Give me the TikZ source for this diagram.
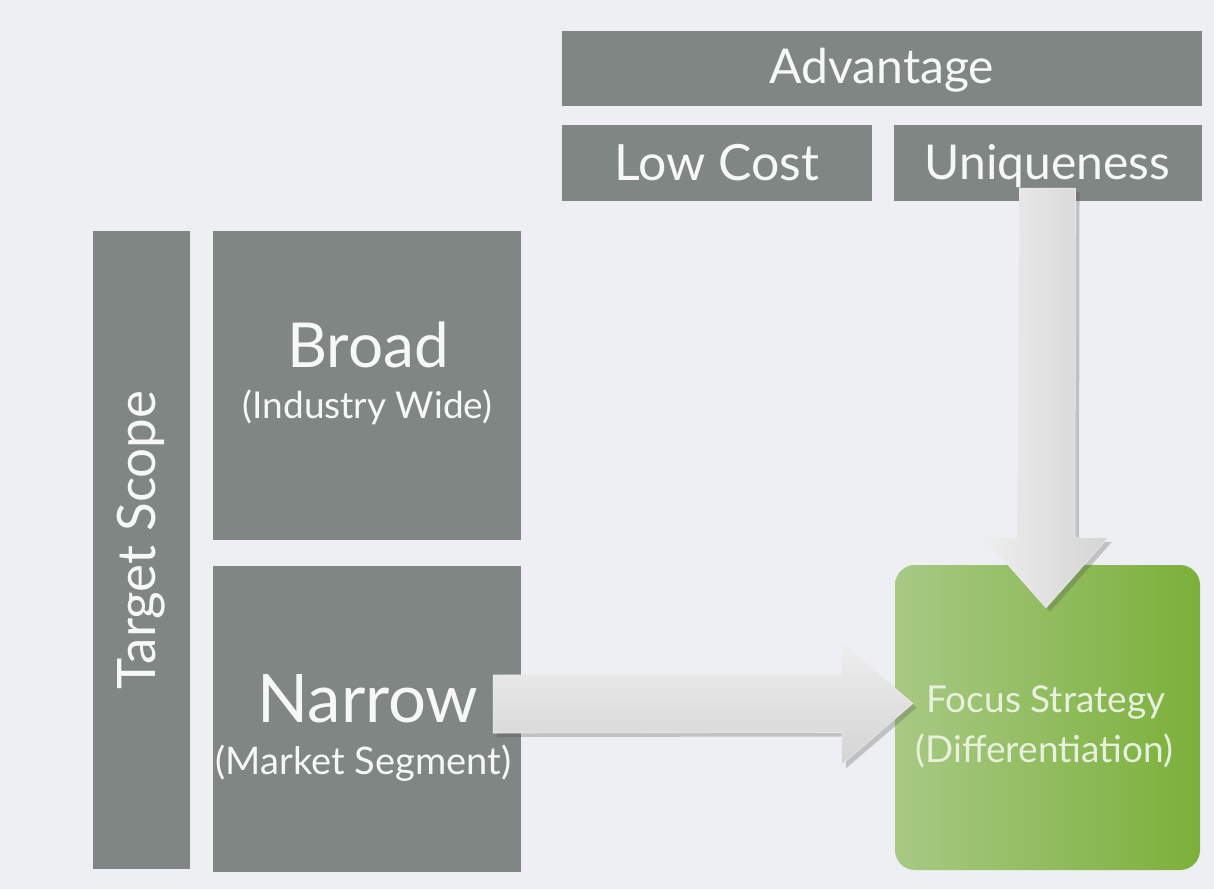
\documentclass[tikz,border=0pt]{standalone}
\usepackage{fontspec}
\setmainfont{Lato}
\usetikzlibrary{shadows,calc}

\definecolor{bg}{RGB}{237,239,242}
\definecolor{panel}{RGB}{127,134,131}
\definecolor{paneltext}{RGB}{246,248,247}
\definecolor{greenL}{RGB}{168,201,132}
\definecolor{greenR}{RGB}{123,176,58}
\definecolor{focustext}{RGB}{232,240,222}
\definecolor{arrowA}{RGB}{238,238,238}
\definecolor{arrowB}{RGB}{212,212,212}

\newcommand{\fs}[1]{\fontsize{#1}{#1}\selectfont}

\begin{document}
\begin{tikzpicture}[x=1pt,y=-1pt,
  panelbox/.style={fill=panel, draw=none, inner sep=0pt},
  paneltitle/.style={text=paneltext, inner sep=0pt},
  focusbox/.style={draw=none, inner sep=0pt, rounded corners=20pt,
    left color=greenL, right color=greenR},
  focuslabel/.style={text=focustext, inner sep=0pt, font=\fs{37}},
  blockarrow/.style={draw=white!85!gray, line width=0.6pt,
    drop shadow={shadow xshift=4pt, shadow yshift=-4pt, opacity=0.28, fill=black!70}},
]
% page background
\fill[bg] (0,0) rectangle (1214,889);
\useasboundingbox (0,0) rectangle (1214,889);

% advantage header and its two columns
\node[panelbox, minimum width=640pt, minimum height=75pt] (adv) at (881.5,68.5) {};
\node[paneltitle, font=\fs{48}] (advlabel) at (882,70) {Advantage};
\node[panelbox, minimum width=310pt, minimum height=76pt] (low) at (717,163) {};
\node[paneltitle, font=\fs{50}] (lowlabel) at (716.5,163) {Low Cost};
\node[panelbox, minimum width=308pt, minimum height=76pt] (uniq) at (1047.5,163) {};
\node[paneltitle, font=\fs{48}] (uniqlabel) at (1047.5,166) {Uniqueness};

% target scope column and its two rows
\node[panelbox, minimum width=97pt, minimum height=638pt] (scope) at (141.5,550) {};
\node[paneltitle, font=\fs{53}, rotate=90] (scopelabel) at (141,540) {Target Scope};
\node[panelbox, minimum width=308pt, minimum height=309pt] (broad) at (367,385.5) {};
\node[paneltitle, font=\fs{62}] (broadlabel) at (368,345) {Broad};
\node[paneltitle, font=\fs{37}] (broadsub) at (367.5,407) {(Industry Wide)};
\node[panelbox, minimum width=308pt, minimum height=306pt] (narrow) at (367,719) {};
\node[paneltitle, font=\fs{67}] (narrowlabel) at (368,699) {Narrow};
\node[paneltitle, font=\fs{38}] (narrowsub) at (363.5,763) {(Market Segment)};

% resulting strategy
\node[focusbox, minimum width=305pt, minimum height=305pt] (focus) at (1047.5,717.5) {};
\node[focuslabel] (focustitle) at (1046,702) {Focus Strategy};
\node[focuslabel] (focussub) at (1044.5,751) {(Differentiation)};

% block arrow: uniqueness -> focus strategy
\coordinate (dtop) at ($(uniq.south)+(0,-13)$);
\coordinate (dtip) at ($(focus.north)+(-1.5,43)$);
\path[blockarrow, left color=arrowA, right color=arrowB]
  ($(dtop)+(-28,0)$) -- ($(dtop)+(28,0)$) -- ($(dtip)+(29,-70)$)
  -- ($(dtip)+(62,-70)$) -- (dtip) -- ($(dtip)+(-62,-70)$)
  -- ($(dtip)+(-29,-70)$) -- cycle;

% block arrow: narrow -> focus strategy
\coordinate (rtail) at ($(narrow.east)+(-28,-15)$);
\coordinate (rtip) at ($(focus.west)+(18,-14)$);
\path[blockarrow, top color=arrowA, bottom color=arrowB]
  ($(rtail)+(0,-29)$) -- ($(rtip)+(-71,-29)$) -- ($(rtip)+(-71,-61)$)
  -- (rtip) -- ($(rtip)+(-71,61)$) -- ($(rtip)+(-71,29)$)
  -- ($(rtail)+(0,29)$) -- cycle;
\end{tikzpicture}
\end{document}
